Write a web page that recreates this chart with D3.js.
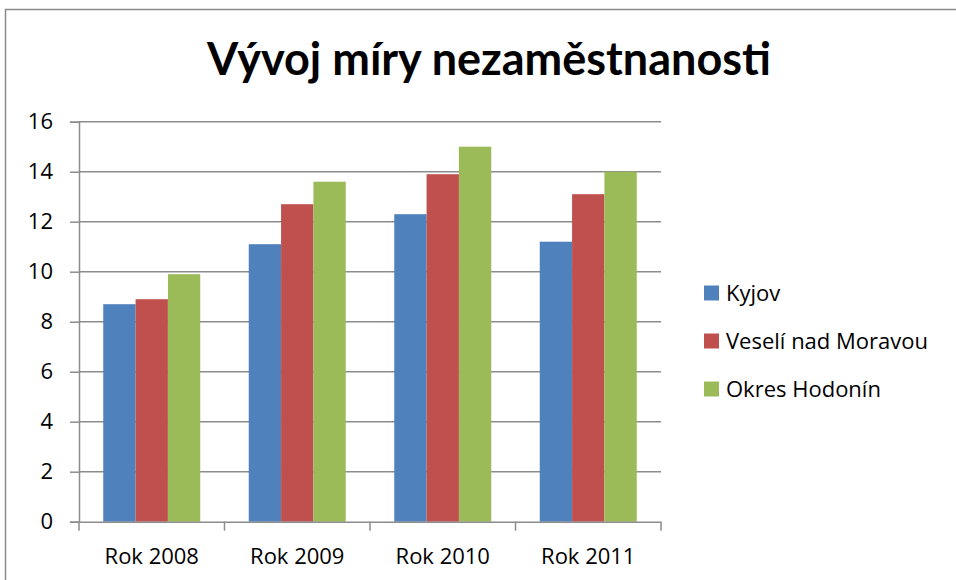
<!DOCTYPE html>
<html>
<head>
<meta charset="utf-8">
<script src="https://cdn.jsdelivr.net/npm/d3@7"></script>
<style>
  body { margin: 0; background: #fff; }
  svg { font-family: "Open Sans", sans-serif; }
</style>
</head>
<body>
<div id="chart"></div>
<script>
'use strict'

// data
const categories = ["Rok 2008", "Rok 2009", "Rok 2010", "Rok 2011"]
const seriesNames = ["Kyjov", "Veselí nad Moravou", "Okres Hodonín"]
const kyjov = [8.7, 11.1, 12.3, 11.2]
const veseli = [8.9, 12.7, 13.9, 13.1]
const hodonin = [9.9, 13.6, 15.0, 14.0]
const yTicks = [0, 2, 4, 6, 8, 10, 12, 14, 16]
const colors = ["#4F81BD", "#C0504D", "#9BBB59"]

const seriesValues = [kyjov, veseli, hodonin]

const width = 956, height = 580
const plot = {left: 79, right: 661, top: 121.7, bottom: 521.7}
const axisColor = "#8c8c8c"
const labelSize = 22

const svg = d3.select("#chart").append("svg")
  .attr("width", width)
  .attr("height", height)

// outer frame
svg.append("rect")
  .attr("x", 5.5).attr("y", 9.5)
  .attr("width", 960).attr("height", 600)
  .attr("fill", "none")
  .attr("stroke", "#8a8a8a")
  .attr("stroke-width", 1.5)

// title
svg.append("text")
  .attr("x", 489).attr("y", 75)
  .attr("text-anchor", "middle")
  .attr("font-family", "Lato, sans-serif")
  .attr("font-size", 45)
  .attr("font-weight", "bold")
  .attr("fill", "#000")
  .text("Vývoj míry nezaměstnanosti")

const y = d3.scaleLinear().domain([0, 16]).range([plot.bottom, plot.top])
const x0 = d3.scaleBand().domain(categories).range([plot.left, plot.right]).padding(0)
const step = x0.bandwidth()
const barW = step / 4.5   // gap 150 % of one bar
const x1 = d3.scaleBand().domain(d3.range(seriesNames.length))
  .range([barW * 0.75, step - barW * 0.75]).padding(0)

// gridlines
svg.append("g").selectAll("line")
  .data(yTicks.filter(d => d > 0))
  .enter().append("line")
    .attr("x1", plot.left).attr("x2", plot.right)
    .attr("y1", d => y(d)).attr("y2", d => y(d))
    .attr("stroke", axisColor)
    .attr("stroke-width", 1.5)

// bars
const groups = svg.append("g").selectAll("g")
  .data(categories)
  .enter().append("g")
    .attr("transform", d => "translate(" + x0(d) + ",0)")

groups.selectAll("rect")
  .data((c, i) => seriesValues.map((vals, s) => ({s: s, v: vals[i]})))
  .enter().append("rect")
    .attr("x", d => x1(d.s))
    .attr("width", x1.bandwidth())
    .attr("y", d => y(d.v))
    .attr("height", d => y(0) - y(d.v))
    .attr("fill", d => colors[d.s])

// y axis
const yAxis = svg.append("g")
  .attr("transform", "translate(" + plot.left + ",0)")
  .call(d3.axisLeft(y).tickValues(yTicks).tickSize(9).tickPadding(17).tickFormat(d3.format("d")))
yAxis.select(".domain").attr("stroke", axisColor).attr("stroke-width", 1.5)
yAxis.selectAll(".tick line").attr("stroke", axisColor).attr("stroke-width", 1.5)
yAxis.selectAll("text").attr("font-size", labelSize).attr("fill", "#000")
  .attr("font-family", "'Open Sans', sans-serif")

// x axis
const xAxis = svg.append("g")
  .attr("transform", "translate(0," + plot.bottom + ")")
  .call(d3.axisBottom(x0).tickSize(0))
xAxis.select(".domain").attr("stroke", axisColor).attr("stroke-width", 1.5)
xAxis.selectAll("text")
  .attr("y", 42).attr("dy", 0)
  .attr("font-size", labelSize).attr("fill", "#000")
  .attr("font-family", "'Open Sans', sans-serif")

// category separators on the x axis
xAxis.append("g").selectAll("line")
  .data(categories.concat(["end"]))
  .enter().append("line")
    .attr("x1", (d, i) => plot.left + i * step)
    .attr("x2", (d, i) => plot.left + i * step)
    .attr("y1", 0).attr("y2", 9)
    .attr("stroke", axisColor)
    .attr("stroke-width", 1.5)

// legend
const legend = svg.append("g").selectAll("g")
  .data(seriesNames)
  .enter().append("g")
    .attr("transform", (d, i) => "translate(704," + (293 + i * 48) + ")")

legend.append("rect")
  .attr("x", 0).attr("y", -7.5)
  .attr("width", 15).attr("height", 15)
  .attr("fill", (d, i) => colors[i])

legend.append("text")
  .attr("x", 22).attr("y", 0)
  .attr("dy", "0.35em")
  .attr("font-size", labelSize)
  .attr("fill", "#000")
  .text(d => d)
</script>
</body>
</html>
